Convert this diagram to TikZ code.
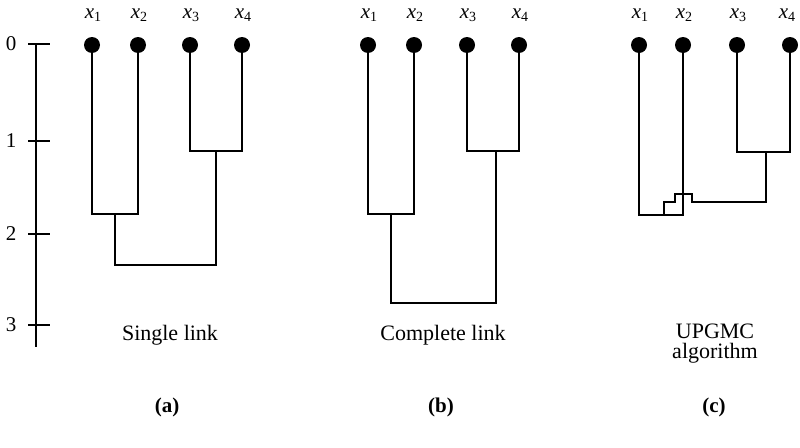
\documentclass[tikz,border=0pt]{standalone}
\usepackage{fontspec}
\setmainfont{Liberation Serif}
\usetikzlibrary{calc}
\begin{document}
\begin{tikzpicture}[x=1pt,y=-1pt,
  dot/.style={circle,fill=black,inner sep=0pt,minimum size=16pt},
  lab/.style={font=\fontsize{21}{23}\selectfont},
  txt/.style={font=\fontsize{22}{24}\selectfont,align=center},
  panelcap/.style={font=\fontsize{21}{23}\selectfont\bfseries},
  num/.style={font=\fontsize{21}{23}\selectfont,anchor=east},
  line/.style={line width=1.1pt},
  axis/.style={line width=1.1pt}]
\useasboundingbox (0,0) rectangle (800,447);
\newcommand{\xl}[1]{\textit{x}\raisebox{-0.3ex}{\fontsize{14}{14}\selectfont #1}}
% axis
\coordinate (axT) at (36,44);
\coordinate (axB) at (36,347);
\draw[axis] (axT) -- (axB);
\foreach \v/\y in {0/44,1/141,2/234,3/325}{
  \coordinate (t\v) at (36,\y);
  \draw[axis] ($(t\v)+(-8,0)$) -- ($(t\v)+(14,0)$);
  \node[num] (n\v) at (20,\y) {\v};
}
% panel a
\foreach \i/\x in {1/92,2/138,3/190,4/242}{
  \node[dot] (a\i) at (\x,45) {};
  \node[lab] (la\i) at (\x+1,15) {\xl{\i}};
}
\coordinate (aL) at (115,214);
\coordinate (aR) at (216,151);
\coordinate (aB) at (167,265);
\draw[line] (a1) |- (aL) -| (a2);
\draw[line] (a3) |- (aR) -| (a4);
\draw[line] (aL) |- (aB) -| (aR);
\node[txt] (ta) at (170,335) {Single link};
\node[panelcap] (ca) at (167,407) {(a)};
% panel b
\foreach \i/\x in {1/368,2/414,3/467,4/519}{
  \node[dot] (b\i) at (\x,45) {};
  \node[lab] (lb\i) at (\x+1,15) {\xl{\i}};
}
\coordinate (bL) at (391,214);
\coordinate (bR) at (496,151);
\coordinate (bB) at (443,303);
\draw[line] (b1) |- (bL) -| (b2);
\draw[line] (b3) |- (bR) -| (b4);
\draw[line] (bL) |- (bB) -| (bR);
\node[txt] (tb) at (443,335) {Complete link};
\node[panelcap] (cb) at (441,407) {(b)};
% panel c
\foreach \i/\x/\lx in {1/639/640,2/683/684,3/737/738,4/790/787}{
  \node[dot] (c\i) at (\x,45) {};
  \node[lab] (lc\i) at (\lx,15) {\xl{\i}};
}
\coordinate (cL) at (660,215);
\coordinate (cR) at (766,152);
\draw[line] (c1) |- (cL) -| (c2);
\draw[line] (c3) |- (cR) -| (c4);
\draw[line] (664,215) |- (675,202) |- (692,194) -- (692,202) -| (cR);
\node[txt] (tc) at (715,344) {UPGMC\\[-4pt]algorithm};
\node[panelcap] (cc) at (714,407) {(c)};
\end{tikzpicture}
\end{document}
